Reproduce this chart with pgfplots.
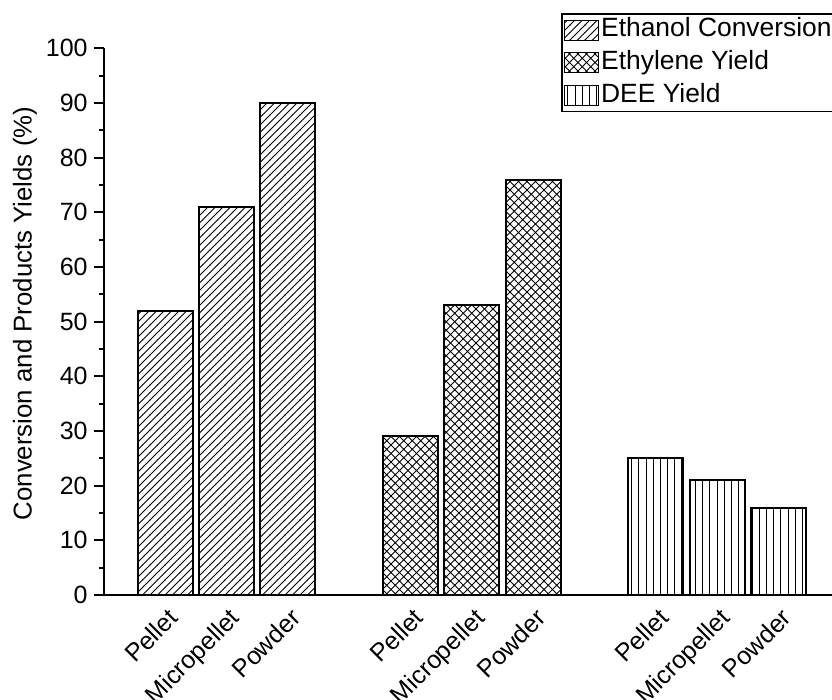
\documentclass[border=0pt]{standalone}
\usepackage{fontspec}
\setmainfont{Liberation Sans}
\usepackage{pgfplots}
\pgfplotsset{compat=1.18}
\usetikzlibrary{patterns}
\pgfdeclarepatternformonly{mydiag}{\pgfqpoint{-1pt}{-1pt}}{\pgfqpoint{4.75pt}{4.75pt}}{\pgfqpoint{3.75pt}{3.75pt}}{%
  \pgfsetlinewidth{0.5pt}%
  \pgfpathmoveto{\pgfqpoint{-0.1pt}{-0.1pt}}\pgfpathlineto{\pgfqpoint{3.85pt}{3.85pt}}%
  \pgfusepath{stroke}}
\pgfdeclarepatternformonly{mycross}{\pgfqpoint{-1pt}{-1pt}}{\pgfqpoint{5.25pt}{5.25pt}}{\pgfqpoint{4.25pt}{4.25pt}}{%
  \pgfsetlinewidth{0.5pt}%
  \pgfpathmoveto{\pgfqpoint{-0.1pt}{-0.1pt}}\pgfpathlineto{\pgfqpoint{4.35pt}{4.35pt}}%
  \pgfpathmoveto{\pgfqpoint{-0.1pt}{4.35pt}}\pgfpathlineto{\pgfqpoint{4.35pt}{-0.1pt}}%
  \pgfusepath{stroke}}
\pgfdeclarepatternformonly{myvert}{\pgfqpoint{-1pt}{-1pt}}{\pgfqpoint{1pt}{4.55pt}}{\pgfqpoint{3.55pt}{3.55pt}}{%
  \pgfsetlinewidth{0.5pt}%
  \pgfpathmoveto{\pgfqpoint{0pt}{-0.1pt}}\pgfpathlineto{\pgfqpoint{0pt}{3.65pt}}%
  \pgfusepath{stroke}}
\begin{document}
\begin{tikzpicture}
\useasboundingbox (0,0) rectangle (416pt,350pt);
\begin{axis}[
  at={(52pt,52.5pt)}, anchor=south west,
  scale only axis, width=364pt, height=273.3pt,
  xmin=-1, xmax=10.87, ymin=0, ymax=100,
  axis lines*=left,
  axis line style={line width=1.2pt},
  ybar, bar width=0.897, bar shift=0pt,
  ytick={0,10,...,100}, minor y tick num=1,
  tick align=outside,
  major tick length=5pt, minor tick length=2.5pt,
  every tick/.style={line width=1pt, black},
  xtick={0,1,2,4,5,6,8,9,10},
  xticklabels={Pellet,Micropellet,Powder,Pellet,Micropellet,Powder,Pellet,Micropellet,Powder},
  x tick style={draw=none},
  xticklabel style={rotate=45, anchor=north east, inner sep=0pt, yshift=-1pt, font=\fontsize{12.5}{14}\selectfont},
  yticklabel style={inner sep=0pt, xshift=-3pt, font=\fontsize{12.5}{14}\selectfont},
  /pgf/number format/assume math mode=true,
  ylabel={Conversion and Products Yields (\%)},
  every axis y label/.style={at={(axis description cs:-0.1085,0.515)}, rotate=90, anchor=center, font=\fontsize{12.9}{14}\selectfont},
  legend style={at={(axis description cs:0.628,1.0646)}, anchor=north west, draw=black, line width=0.8pt,
    font=\fontsize{13.2}{15}\selectfont, inner sep=1pt, row sep=2pt,
    nodes={inner sep=1pt, text height=9.5pt, text depth=2.8pt},
    /tikz/every even column/.append style={column sep=2.5pt}},
  legend cell align=left,
  legend image code/.code={\draw[#1, line width=0.6pt] (0pt,-5pt) rectangle (17pt,5pt);},
]
\addplot[draw=black, line width=1pt, pattern=mydiag]
  coordinates {(0,52) (1,71) (2,90)};
\addplot[draw=black, line width=1pt, pattern=mycross]
  coordinates {(4,29) (5,53) (6,76)};
\addplot[draw=black, line width=1pt, pattern=myvert]
  coordinates {(8,25) (9,21) (10,16)};
\legend{Ethanol Conversion, Ethylene Yield, DEE Yield}
\end{axis}
\end{tikzpicture}
\end{document}
